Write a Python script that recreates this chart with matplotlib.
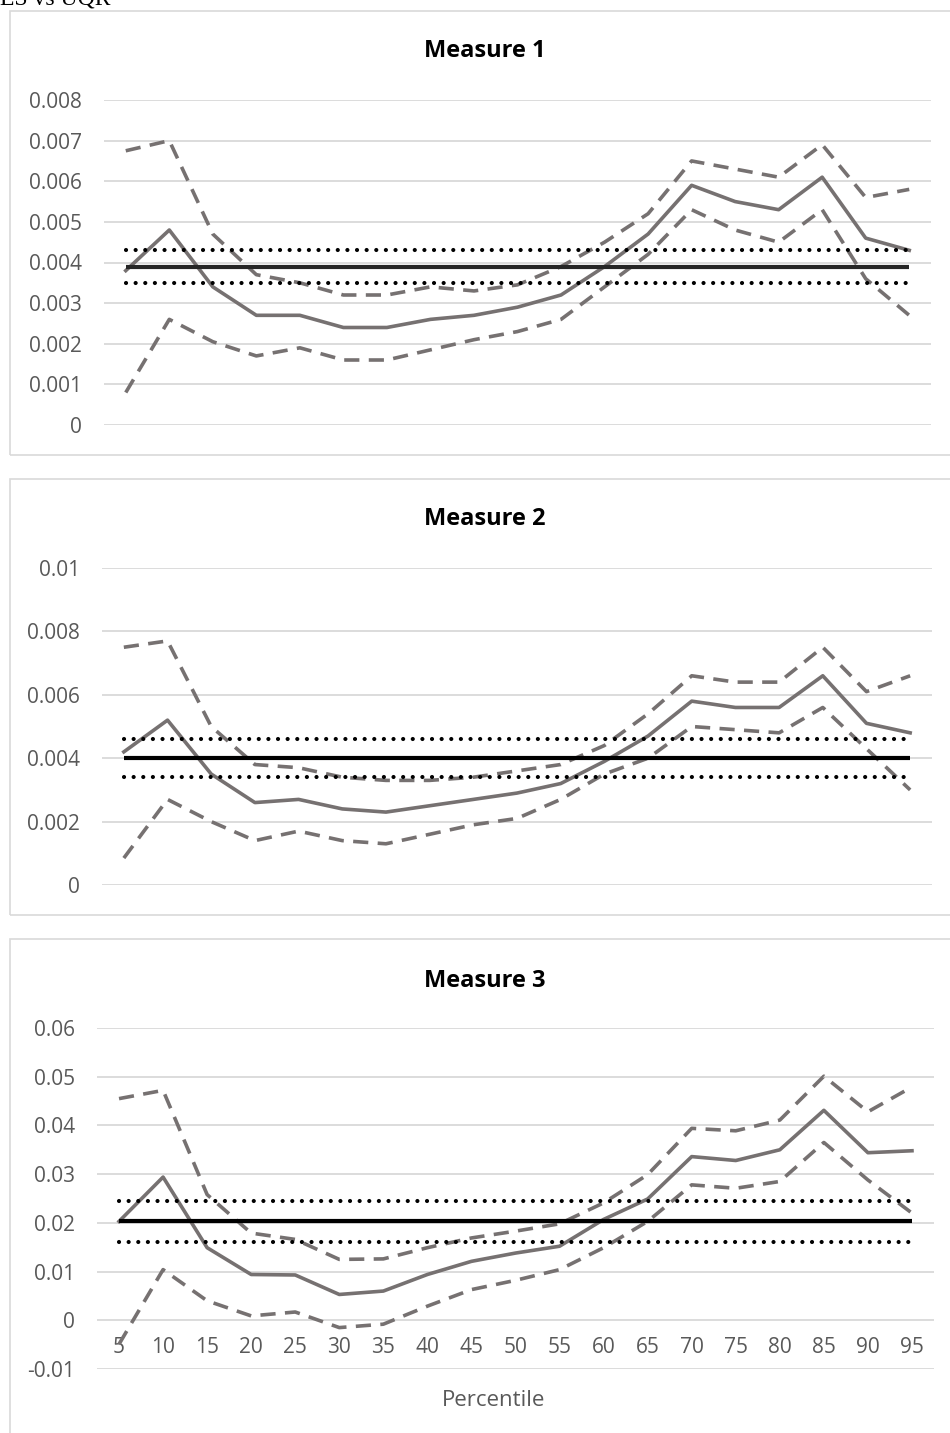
import matplotlib
matplotlib.use("Agg")
import matplotlib.pyplot as plt
from matplotlib.patches import Rectangle

# x categories
percentiles = [5, 10, 15, 20, 25, 30, 35, 40, 45, 50, 55, 60, 65, 70, 75, 80, 85, 90, 95]

# Measure 1
m1_est = [0.0038, 0.0048, 0.0034, 0.0027, 0.0027, 0.0024, 0.0024, 0.0026, 0.0027, 0.0029,
          0.0032, 0.0039, 0.0047, 0.0059, 0.0055, 0.0053, 0.0061, 0.0046, 0.0043]
m1_hi = [0.00675, 0.0070, 0.0047, 0.0037, 0.0035, 0.0032, 0.0032, 0.0034, 0.0033, 0.00345,
         0.0039, 0.0045, 0.0052, 0.0065, 0.0063, 0.0061, 0.0069, 0.0056, 0.0058]
m1_lo = [0.0008, 0.0026, 0.00205, 0.0017, 0.0019, 0.0016, 0.0016, 0.00185, 0.0021, 0.0023,
         0.0026, 0.0034, 0.0042, 0.0053, 0.0048, 0.0045, 0.0053, 0.0036, 0.0027]
m1_es, m1_es_hi, m1_es_lo = 0.0039, 0.0043, 0.0035

# Measure 2
m2_est = [0.0042, 0.0052, 0.0035, 0.0026, 0.0027, 0.0024, 0.0023, 0.0025, 0.0027, 0.0029,
          0.0032, 0.0039, 0.0047, 0.0058, 0.0056, 0.0056, 0.0066, 0.0051, 0.0048]
m2_hi = [0.0075, 0.0077, 0.0050, 0.0038, 0.0037, 0.0034, 0.0033, 0.0033, 0.0034, 0.0036,
         0.0038, 0.0044, 0.0054, 0.0066, 0.0064, 0.0064, 0.0075, 0.0061, 0.0066]
m2_lo = [0.00085, 0.0027, 0.0020, 0.0014, 0.0017, 0.0014, 0.0013, 0.0016, 0.0019, 0.0021,
         0.0027, 0.0035, 0.0040, 0.0050, 0.0049, 0.0048, 0.0056, 0.0043, 0.0030]
m2_es, m2_es_hi, m2_es_lo = 0.0040, 0.0046, 0.0034

# Measure 3
m3_est = [0.0203, 0.0294, 0.0149, 0.0094, 0.0093, 0.0053, 0.0060, 0.0094, 0.0121, 0.0138,
          0.0152, 0.0207, 0.0249, 0.0336, 0.0328, 0.0350, 0.0431, 0.0344, 0.0348]
m3_hi = [0.0455, 0.0472, 0.0258, 0.0179, 0.0166, 0.0125, 0.0126, 0.0149, 0.0169, 0.0183,
         0.0198, 0.0241, 0.0299, 0.0394, 0.0389, 0.0411, 0.0501, 0.0428, 0.0479]
m3_lo = [-0.0049, 0.0104, 0.0040, 0.0009, 0.0017, -0.0015, -0.0008, 0.0029, 0.0063, 0.0082,
         0.0104, 0.0149, 0.0203, 0.0278, 0.0271, 0.0285, 0.0365, 0.0288, 0.0220]
m3_es, m3_es_hi, m3_es_lo = 0.0203, 0.0245, 0.0160

m1_ticks = [0, 0.001, 0.002, 0.003, 0.004, 0.005, 0.006, 0.007, 0.008]
m1_labels = ['0', '0.001', '0.002', '0.003', '0.004', '0.005', '0.006', '0.007', '0.008']
m2_ticks = [0, 0.002, 0.004, 0.006, 0.008, 0.01]
m2_labels = ['0', '0.002', '0.004', '0.006', '0.008', '0.01']
m3_ticks = [-0.01, 0, 0.01, 0.02, 0.03, 0.04, 0.05, 0.06]
m3_labels = ['-0.01', '0', '0.01', '0.02', '0.03', '0.04', '0.05', '0.06']

plt.rcParams['font.family'] = ['Open Sans', 'DejaVu Sans']

W, H = 950, 1433
GRAY = '#767171'
GRID = '#d9d9d9'
LW = 2.6

fig = plt.figure(figsize=(W / 100, H / 100), dpi=100)


def axes_px(left, right, top, bottom):
    return fig.add_axes([left / W, 1 - bottom / H, (right - left) / W, (bottom - top) / H])


def box_px(left, right, top, bottom):
    r = Rectangle((left / W, 1 - bottom / H), (right - left) / W, (bottom - top) / H,
                  transform=fig.transFigure, fill=False, edgecolor=GRID, lw=1.2)
    fig.add_artist(r)


def panel(ax, est, hi, lo, es, es_hi, es_lo, ylim, ticks, labels, es_color):
    x = list(range(1, len(percentiles) + 1))
    n = len(percentiles)
    ax.set_xlim(0.5, n + 0.5)
    ax.set_ylim(*ylim)
    ax.set_yticks(ticks)
    ax.set_yticklabels(labels)
    ax.grid(axis='y', color=GRID, lw=1.3)
    ax.set_axisbelow(True)
    for s in ax.spines.values():
        s.set_visible(False)
    ax.tick_params(axis='y', length=0, pad=16, labelsize=15, labelcolor='#595959')
    ax.plot(x, est, color=GRAY, lw=LW, solid_joinstyle='round')
    ax.plot(x, hi, color=GRAY, lw=LW, linestyle=(0, (4.2, 2.6)))
    ax.plot(x, lo, color=GRAY, lw=LW, linestyle=(0, (4.2, 2.6)))
    ax.plot(x, [es] * n, color=es_color, lw=3.0, solid_capstyle='butt')
    ax.plot(x, [es_hi] * n, color='black', lw=3.0, linestyle=(0, (0.01, 2.3)),
            dash_capstyle='round')
    ax.plot(x, [es_lo] * n, color='black', lw=3.0, linestyle=(0, (0.01, 2.3)),
            dash_capstyle='round')
    return x


# panel boxes
box_px(10, 970, 11, 455)
box_px(10, 970, 479, 915)
box_px(10, 970, 939, 1450)

ax1 = axes_px(104, 931, 100, 425)
panel(ax1, m1_est, m1_hi, m1_lo, m1_es, m1_es_hi, m1_es_lo, (0, 0.008),
      m1_ticks, m1_labels, '#262626')
ax1.set_xticks([])

ax2 = axes_px(102, 932, 568, 885)
panel(ax2, m2_est, m2_hi, m2_lo, m2_es, m2_es_hi, m2_es_lo, (0, 0.01),
      m2_ticks, m2_labels, 'black')
ax2.set_xticks([])

ax3 = axes_px(97, 934, 1028, 1369)
x3 = panel(ax3, m3_est, m3_hi, m3_lo, m3_es, m3_es_hi, m3_es_lo, (-0.01, 0.06),
           m3_ticks, m3_labels, 'black')
ax3.spines['bottom'].set_position(('data', 0))
ax3.set_xticks(x3)
ax3.set_xticklabels([str(p) for p in percentiles])
ax3.tick_params(axis='x', length=0, pad=12, labelsize=15, labelcolor='#595959')

# titles
for ytop, t in [(51, 'Measure 1'), (519, 'Measure 2'), (981, 'Measure 3')]:
    fig.text(485 / W, 1 - ytop / H, t, ha='center', va='center', fontsize=17,
             fontweight='bold', color='black')

fig.text(494 / W, 1 - 1400 / H, 'Percentile', ha='center', va='center', fontsize=16,
         color='#595959')

# header line, partly cut by the top edge as in the source page
fig.text(0, 1 - 5 / H, 'ES vs UQR', ha='left', va='baseline', fontsize=17,
         family='Liberation Serif', color='black')

fig.savefig('out.png', dpi=100)
